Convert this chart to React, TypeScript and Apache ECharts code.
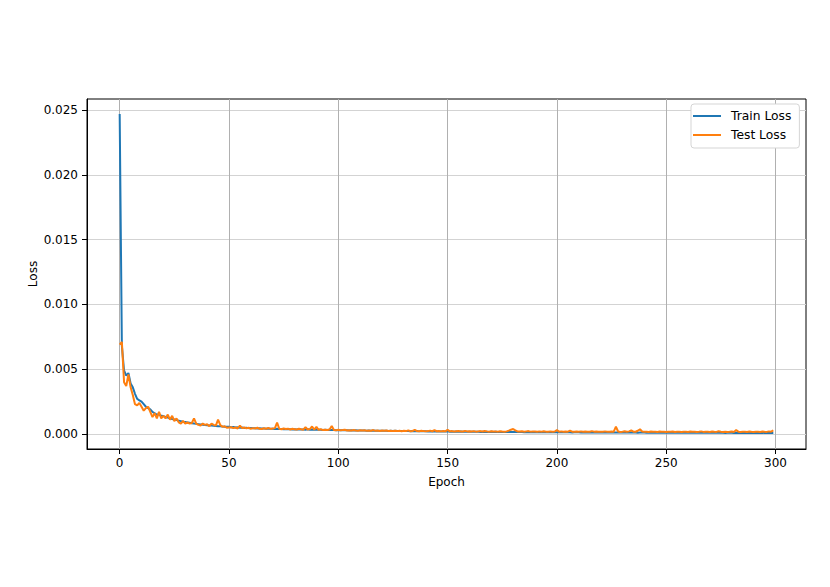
import React, { useEffect, useRef } from "react";
import * as echarts from "echarts";

const xTicks = [0, 50, 100, 150, 200, 250, 300];
const yTicks = [0, 0.005, 0.01, 0.015, 0.02, 0.025];

const trainLoss = [
  0.0247, 0.0068, 0.0049, 0.0045, 0.0047, 0.0039, 0.0036, 0.0031, 0.0027, 0.0026,
  0.0025, 0.0023, 0.0021, 0.0020, 0.0019, 0.0017, 0.0016, 0.0015, 0.0015, 0.0014,
  0.00138, 0.00132, 0.00127, 0.00121, 0.00116, 0.00112, 0.00107, 0.00103, 0.00099, 0.00095,
  0.00092, 0.00089, 0.00086, 0.00083, 0.0008, 0.00078, 0.00076, 0.00074, 0.00072, 0.0007,
  0.00068, 0.00066, 0.00065, 0.00063, 0.00062, 0.0006, 0.00059, 0.00057, 0.00056, 0.00055,
  0.00055, 0.00052, 0.00054, 0.0005, 0.00051, 0.00048, 0.0005, 0.00047, 0.00048, 0.00045,
  0.00047, 0.00044, 0.00045, 0.00043, 0.00044, 0.00042, 0.00043, 0.0004, 0.00042, 0.0004,
  0.00041, 0.00039, 0.0004, 0.00038, 0.00039, 0.00037, 0.00038, 0.00036, 0.00037, 0.00035,
  0.00037, 0.00035, 0.00036, 0.00034, 0.00035, 0.00033, 0.00036, 0.00033, 0.00034, 0.00032,
  0.00034, 0.00032, 0.00033, 0.00031, 0.00032, 0.0003, 0.00032, 0.00031, 0.0003, 0.00029,
  0.0003, 0.00028, 0.00029, 0.00028, 0.00029, 0.00027, 0.00028, 0.00026, 0.00028, 0.00026,
  0.00027, 0.00026, 0.00027, 0.00025, 0.00026, 0.00025, 0.00026, 0.00024, 0.00025, 0.00024,
  0.00025, 0.00024, 0.00025, 0.00023, 0.00024, 0.00023, 0.00024, 0.00022, 0.00023, 0.00022,
  0.00023, 0.00022, 0.00023, 0.00021, 0.00022, 0.00021, 0.00022, 0.0002, 0.00022, 0.00021,
  0.00021, 0.0002, 0.00021, 0.0002, 0.00021, 0.00019, 0.0002, 0.00019, 0.0002, 0.00019,
  0.0002, 0.00018, 0.00019, 0.00018, 0.00019, 0.00018, 0.00019, 0.00017, 0.00018, 0.00017,
  0.00018, 0.00017, 0.00018, 0.00017, 0.00018, 0.00016, 0.00017, 0.00016, 0.00017, 0.00016,
  0.00017, 0.00016, 0.00017, 0.00016, 0.00016, 0.00015, 0.00016, 0.00015, 0.00016, 0.00015,
  0.00016, 0.00015, 0.00016, 0.00015, 0.00015, 0.00014, 0.00015, 0.00014, 0.00015, 0.00014,
  0.00015, 0.00014, 0.00015, 0.00014, 0.00014, 0.00014, 0.00015, 0.00013, 0.00014, 0.00013,
  0.00014, 0.00013, 0.00014, 0.00013, 0.00014, 0.00013, 0.00013, 0.00012, 0.00013, 0.00013,
  0.00013, 0.00012, 0.00013, 0.00012, 0.00013, 0.00012, 0.00013, 0.00012, 0.00012, 0.00012,
  0.00013, 0.00012, 0.00012, 0.00011, 0.00012, 0.00012, 0.00012, 0.00011, 0.00012, 0.00011,
  0.00012, 0.00011, 0.00012, 0.00011, 0.00011, 0.00011, 0.00012, 0.0001, 0.00011, 0.00011,
  0.00011, 0.0001, 0.00011, 0.0001, 0.00011, 0.0001, 0.00011, 0.0001, 0.00011, 0.0001,
  0.00011, 0.0001, 0.0001, 0.0001, 0.00011, 0.0001, 0.0001, 0.00009, 0.0001, 0.0001,
  0.0001, 0.00009, 0.0001, 0.00009, 0.0001, 0.00009, 0.0001, 0.00009, 0.0001, 0.00009,
  0.0001, 0.00009, 0.00009, 0.00009, 0.0001, 0.00009, 0.00009, 0.00008, 0.00009, 0.00009,
  0.00009, 0.00008, 0.00009, 0.00008, 0.00009, 0.00008, 0.00009, 0.00008, 0.00009, 0.00008,
  0.00009, 0.00008, 0.00008, 0.00008, 0.00009, 0.00008, 0.00008, 0.00008, 0.00008, 0.00008,
];

const testLoss = [
  0.0069, 0.0071, 0.0040, 0.0037, 0.0046, 0.0036, 0.0030, 0.0023, 0.0022, 0.0024,
  0.0021, 0.0018, 0.0020, 0.0021, 0.0017, 0.0013, 0.0016, 0.0012, 0.0017, 0.0012,
  0.0014, 0.0012, 0.0015, 0.0011, 0.0014, 0.0010, 0.0012, 0.0009, 0.0008, 0.0010,
  0.0008, 0.0009, 0.0008, 0.00085, 0.0012, 0.0008, 0.0007, 0.00065, 0.0008, 0.0007,
  0.00075, 0.0006, 0.0008, 0.0007, 0.00065, 0.0011, 0.0007, 0.00055, 0.0006, 0.00048,
  0.0005, 0.00052, 0.00045, 0.0005, 0.00042, 0.00065, 0.00045, 0.0005, 0.00043, 0.00048,
  0.0004, 0.00045, 0.00042, 0.00048, 0.0004, 0.00038, 0.00044, 0.0004, 0.00046, 0.00039,
  0.00042, 0.00045, 0.00087, 0.0004, 0.00036, 0.00042, 0.00038, 0.00041, 0.00035, 0.0004,
  0.00037, 0.00034, 0.0004, 0.00036, 0.00033, 0.00052, 0.00035, 0.00038, 0.00058, 0.00034,
  0.00055, 0.00032, 0.00036, 0.0003, 0.00033, 0.00031, 0.00035, 0.00062, 0.00031, 0.00029,
  0.00032, 0.00028, 0.0003, 0.00033, 0.00027, 0.00029, 0.00026, 0.00031, 0.00027, 0.00025,
  0.00028, 0.00026, 0.00029, 0.00024, 0.00027, 0.00025, 0.0003, 0.00024, 0.00026, 0.00023,
  0.00026, 0.00024, 0.00027, 0.00023, 0.00025, 0.00022, 0.00024, 0.00022, 0.00025, 0.00021,
  0.00024, 0.00022, 0.00028, 0.00021, 0.00023, 0.00032, 0.00022, 0.00021, 0.00025, 0.00022,
  0.0002, 0.00022, 0.00026, 0.00021, 0.00029, 0.00021, 0.00022, 0.0002, 0.00023, 0.0002,
  0.00033, 0.0002, 0.00022, 0.00019, 0.00021, 0.00023, 0.0002, 0.00019, 0.00024, 0.0002,
  0.00021, 0.00019, 0.00022, 0.00018, 0.0002, 0.00022, 0.00019, 0.00023, 0.0002, 0.00018,
  0.00021, 0.00019, 0.0002, 0.00018, 0.00021, 0.00019, 0.00018, 0.0002, 0.00026, 0.00033,
  0.00038, 0.00028, 0.0002, 0.00019, 0.00021, 0.00018, 0.0002, 0.00022, 0.00018, 0.0002,
  0.00019, 0.00017, 0.0002, 0.00018, 0.00021, 0.00018, 0.00017, 0.0002, 0.00018, 0.00019,
  0.0003, 0.00018, 0.0002, 0.00017, 0.00019, 0.00018, 0.00025, 0.00018, 0.00017, 0.00019,
  0.00018, 0.0002, 0.00017, 0.00019, 0.00018, 0.00017, 0.00022, 0.00018, 0.00019, 0.00017,
  0.00018, 0.00017, 0.0002, 0.00018, 0.00017, 0.00019, 0.00018, 0.00056, 0.00019, 0.00016,
  0.00018, 0.00021, 0.00017, 0.0002, 0.00027, 0.00018, 0.00017, 0.00025, 0.00036, 0.00019,
  0.00017, 0.00018, 0.00016, 0.00019, 0.00017, 0.00018, 0.00016, 0.00019, 0.00017, 0.00018,
  0.00016, 0.00018, 0.00017, 0.00019, 0.00016, 0.00018, 0.00017, 0.00016, 0.00018, 0.00017,
  0.00016, 0.00019, 0.00017, 0.00018, 0.00016, 0.00017, 0.0002, 0.00016, 0.00018, 0.00017,
  0.00016, 0.00019, 0.00017, 0.00016, 0.00021, 0.00017, 0.00016, 0.00018, 0.00016, 0.00017,
  0.00019, 0.00016, 0.0003, 0.00018, 0.00016, 0.00017, 0.00018, 0.00016, 0.00019, 0.00017,
  0.00016, 0.00018, 0.00017, 0.00016, 0.00019, 0.00017, 0.00016, 0.0002, 0.00018, 0.00028,
];

const FONT = "DejaVu Sans";
const FS = 12;

export default function App() {
  const ref = useRef<HTMLDivElement>(null);
  useEffect(() => {
    if (!ref.current) return;
    const chart = echarts.init(ref.current, null, { renderer: "svg" });
    const trainData = trainLoss.map((v, i) => [i, v]);
    const testData = testLoss.map((v, i) => [i, v]);
    chart.setOption({
      animation: false,
      backgroundColor: "#ffffff",
      textStyle: { fontFamily: FONT },
      grid: {
        left: 87,
        right: 24,
        top: 99,
        bottom: 138,
        show: true,
        borderColor: "#000000",
        borderWidth: 1,
        backgroundColor: "transparent",
      },
      legend: {
        orient: "vertical",
        left: 691,
        top: 104,
        padding: [6, 8, 7, 2],
        itemGap: 7,
        itemWidth: 28,
        itemHeight: 2,
        icon: "rect",
        backgroundColor: "#ffffff",
        borderColor: "#d5d5d5",
        borderWidth: 1,
        borderRadius: 3,
        textStyle: {
          fontFamily: FONT,
          fontSize: 12.3,
          color: "#000000",
          padding: [0, 0, 0, 5],
          lineHeight: 12,
        },
        data: ["Train Loss", "Test Loss"],
      },
      xAxis: {
        type: "value",
        min: -14.95,
        max: 313.95,
        name: "Epoch",
        nameLocation: "middle",
        nameGap: 27,
        nameTextStyle: { fontFamily: FONT, fontSize: FS, color: "#000" },
        axisLine: { show: true, onZero: false, lineStyle: { color: "#000", width: 1 } },
        axisTick: {
          show: true,
          inside: false,
          length: 5,
          lineStyle: { color: "#000", width: 1 },
          customValues: xTicks,
        },
        axisLabel: {
          show: true,
          margin: 8,
          fontFamily: FONT,
          fontSize: FS,
          color: "#000",
          customValues: xTicks,
          formatter: (v: number) => String(Math.round(v)),
        },
        splitLine: { show: true, lineStyle: { color: "#b0b0b0", width: 1 } },
      },
      yAxis: {
        type: "value",
        min: -0.00116,
        max: 0.02585,
        name: "Loss",
        nameLocation: "middle",
        nameGap: 48,
        nameMoveOverlap: false,
        nameRotate: 90,
        nameTextStyle: { fontFamily: FONT, fontSize: FS, color: "#000" },
        axisLine: { show: true, onZero: false, lineStyle: { color: "#000", width: 1 } },
        axisTick: {
          show: true,
          inside: false,
          length: 5,
          lineStyle: { color: "#000", width: 1 },
          customValues: yTicks,
        },
        axisLabel: {
          show: true,
          margin: 9,
          fontFamily: FONT,
          fontSize: FS,
          color: "#000",
          customValues: yTicks,
          formatter: (v: number) => v.toFixed(3),
        },
        splitLine: { show: true, lineStyle: { color: "#d3d3d3", width: 1 } },
      },
      series: [
        {
          name: "Train Loss",
          type: "line",
          data: trainData,
          showSymbol: false,
          symbol: "none",
          color: "#1f77b4",
          lineStyle: { color: "#1f77b4", width: 2 },
          z: 2,
        },
        {
          name: "Test Loss",
          type: "line",
          data: testData,
          showSymbol: false,
          symbol: "none",
          color: "#ff7f0e",
          lineStyle: { color: "#ff7f0e", width: 2 },
          z: 3,
        },
      ],
    });
    return () => chart.dispose();
  }, []);
  return (
    <div
      ref={ref}
      style={{ position: "fixed", left: 0, top: 0, width: 830, height: 587, background: "#fff" }}
    />
  );
}
